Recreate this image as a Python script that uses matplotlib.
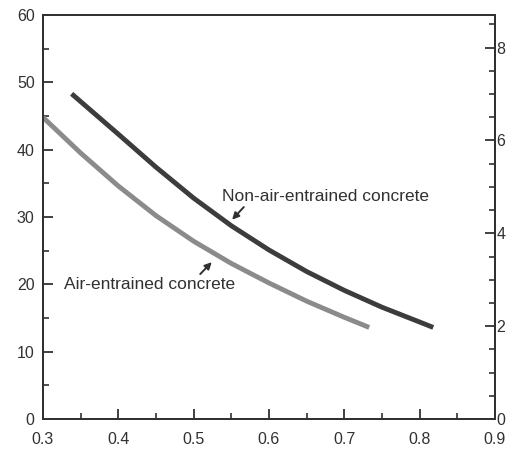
import matplotlib
matplotlib.use("Agg")
import matplotlib.pyplot as plt
from matplotlib.ticker import MultipleLocator

plt.rcParams['font.family'] = ['Liberation Sans', 'DejaVu Sans']

# Water-cement ratio vs compressive strength (MPa)
non_air_wc = [0.338, 0.40, 0.45, 0.50, 0.55, 0.60, 0.65, 0.70, 0.75, 0.80, 0.818]
non_air_strength = [48.3, 42.3, 37.4, 32.8, 28.7, 25.1, 21.9, 19.1, 16.6, 14.4, 13.6]

air_wc = [0.30, 0.35, 0.40, 0.45, 0.50, 0.55, 0.60, 0.65, 0.70, 0.733]
air_strength = [44.8, 39.5, 34.6, 30.2, 26.4, 23.1, 20.2, 17.5, 15.1, 13.6]

x_ticks = [0.3, 0.4, 0.5, 0.6, 0.7, 0.8, 0.9]
y_ticks_mpa = [0, 10, 20, 30, 40, 50, 60]
y_ticks_ksi = [0, 2, 4, 6, 8]
MPA_PER_KSI = 6.895

ink = '#2f332f'

fig = plt.figure(figsize=(5.08, 4.5), dpi=100)
ax = fig.add_axes([43/508, 31/450, (495-43)/508, (419-15)/450])

ax.plot(non_air_wc, non_air_strength, color='#3a3d3a', lw=3.5,
        solid_capstyle='butt', solid_joinstyle='round')
ax.plot(air_wc, air_strength, color='#8a8c8a', lw=3.5,
        solid_capstyle='butt', solid_joinstyle='round')

ax.set_xlim(0.3, 0.9)
ax.set_ylim(0, 60)
ax.set_xticks(x_ticks)
ax.set_xticklabels([f"{v:.1f}" for v in x_ticks])
ax.set_yticks(y_ticks_mpa)
ax.xaxis.set_minor_locator(MultipleLocator(0.05))
ax.yaxis.set_minor_locator(MultipleLocator(5))
ax.tick_params(which='major', direction='in', length=7, width=1.3, color=ink,
               labelsize=11.5, labelcolor=ink, right=False, top=False)
ax.tick_params(axis='x', which='major', pad=9)
ax.tick_params(axis='y', which='major', pad=6)
ax.tick_params(which='minor', direction='in', length=4, width=1.2, color=ink,
               right=False, top=False)
for s in ax.spines.values():
    s.set_color(ink)
    s.set_linewidth(1.4)

ax2 = ax.twinx()
ax2.set_ylim(0, 60 / MPA_PER_KSI)
ax2.set_yticks(y_ticks_ksi)
ax2.yaxis.set_minor_locator(MultipleLocator(0.5))
ax2.tick_params(which='major', direction='in', length=7, width=1.3, color=ink,
                labelsize=11.5, labelcolor=ink, pad=1)
ax2.tick_params(which='minor', direction='in', length=4, width=1.2, color=ink)
for s in ax2.spines.values():
    s.set_color(ink)
    s.set_linewidth(1.4)

ax.annotate('Non-air-entrained concrete', xy=(0.551, 29.6), xytext=(0.537, 33.0),
            fontsize=12.5, color=ink, va='center', ha='left',
            arrowprops=dict(arrowstyle='-|>', color=ink, lw=1.4, mutation_scale=10,
                            shrinkA=0, shrinkB=0, relpos=(0.12, 0.0)))
ax.annotate('Air-entrained concrete', xy=(0.524, 23.3), xytext=(0.328, 20.0),
            fontsize=12.5, color=ink, va='center', ha='left',
            arrowprops=dict(arrowstyle='-|>', color=ink, lw=1.4, mutation_scale=10,
                            shrinkA=0, shrinkB=0, relpos=(0.78, 1.0)))

fig.savefig('out.png', dpi=100)
